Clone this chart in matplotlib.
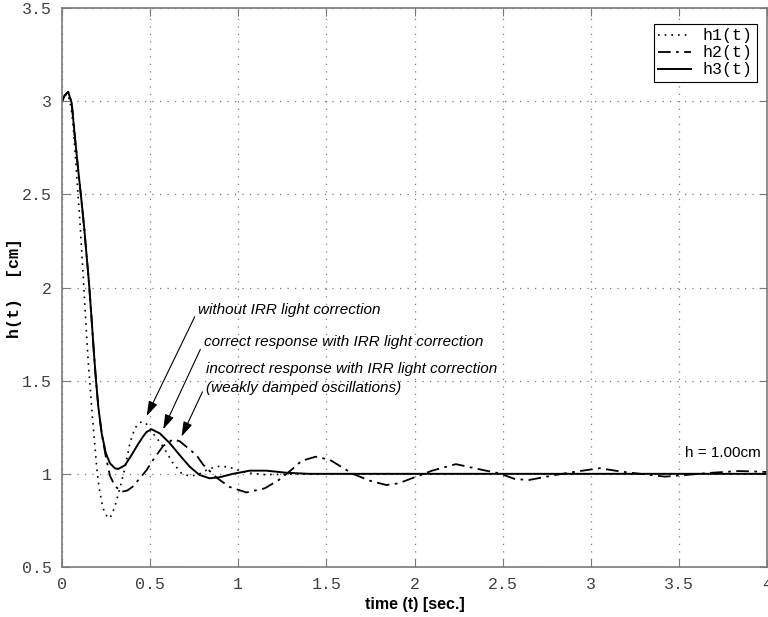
import matplotlib
matplotlib.use("Agg")
from matplotlib import pyplot as plt

# h1(t): without IRR light correction
t1 = [0.0, 0.015, 0.03, 0.045, 0.055, 0.064, 0.07, 0.079, 0.09, 0.102, 0.11, 0.121,
      0.13, 0.139, 0.149, 0.162, 0.171, 0.183, 0.192, 0.20, 0.211, 0.225, 0.24, 0.262,
      0.28, 0.30, 0.328, 0.357, 0.385, 0.413, 0.44, 0.46, 0.49, 0.517, 0.574, 0.63,
      0.678, 0.725, 0.77, 0.82, 0.87, 0.90, 0.95, 1.0, 1.05, 1.15, 1.3, 1.6, 2.0,
      3.0, 4.0]
h1 = [3.0, 3.03, 3.04, 3.0, 2.94, 2.86, 2.78, 2.66, 2.51, 2.35, 2.22, 2.05,
      1.90, 1.75, 1.60, 1.44, 1.32, 1.19, 1.09, 1.006, 0.924, 0.85, 0.795, 0.761,
      0.775, 0.824, 0.922, 1.03, 1.164, 1.244, 1.275, 1.28, 1.26, 1.217, 1.146, 1.057,
      1.003, 0.988, 0.995, 1.02, 1.038, 1.041, 1.035, 1.02, 1.005, 0.996, 0.998, 1.0, 1.0,
      1.0, 1.0]

# h2(t): incorrect response with IRR light correction
t2 = [0.0, 0.015, 0.035, 0.055, 0.074, 0.092, 0.11, 0.125, 0.136, 0.149, 0.155, 0.168,
      0.181, 0.193, 0.206, 0.225, 0.249, 0.272, 0.30, 0.338, 0.37, 0.40, 0.44, 0.48,
      0.517, 0.574, 0.63, 0.668, 0.725, 0.763, 0.80, 0.876, 0.95, 1.046, 1.15, 1.23,
      1.30, 1.36, 1.44, 1.52, 1.65, 1.75, 1.84, 1.91, 2.01, 2.10, 2.235, 2.39, 2.48,
      2.57, 2.65, 2.80, 2.91, 3.05, 3.18, 3.31, 3.42, 3.54, 3.69, 3.84, 3.95, 4.0]
h2 = [3.0, 3.03, 3.05, 2.99, 2.80, 2.63, 2.47, 2.33, 2.21, 2.07, 2.0, 1.83,
      1.65, 1.50, 1.36, 1.218, 1.09, 0.99, 0.935, 0.904, 0.91, 0.93, 0.975, 1.02,
      1.075, 1.15, 1.185, 1.175, 1.13, 1.10, 1.05, 0.98, 0.93, 0.90, 0.922, 0.967,
      1.02, 1.07, 1.092, 1.075, 1.0, 0.962, 0.94, 0.949, 0.985, 1.017, 1.052, 1.02, 1.003,
      0.972, 0.967, 0.994, 1.011, 1.03, 1.011, 0.997, 0.985, 0.994, 1.006, 1.015, 1.012, 1.01]

# h3(t): correct response with IRR light correction
t3 = [0.0, 0.015, 0.035, 0.055, 0.074, 0.092, 0.11, 0.125, 0.136, 0.149, 0.155, 0.168,
      0.181, 0.193, 0.206, 0.225, 0.249, 0.272, 0.30, 0.319, 0.357, 0.394, 0.432, 0.46,
      0.48, 0.508, 0.555, 0.612, 0.668, 0.725, 0.78, 0.838, 0.895, 0.97, 1.065, 1.16,
      1.27, 1.4, 1.6, 2.0, 3.0, 4.0]
h3 = [3.0, 3.03, 3.05, 2.99, 2.80, 2.63, 2.47, 2.33, 2.21, 2.07, 2.0, 1.83,
      1.65, 1.50, 1.36, 1.218, 1.11, 1.057, 1.03, 1.026, 1.046, 1.10, 1.16, 1.20,
      1.225, 1.239, 1.217, 1.164, 1.10, 1.038, 0.994, 0.976, 0.982, 1.0, 1.017, 1.017,
      1.006, 1.0, 1.0, 1.0, 1.0, 1.0]

x_ticks = [0, 0.5, 1, 1.5, 2, 2.5, 3, 3.5, 4]
x_labels = ["0", "0.5", "1", "1.5", "2", "2.5", "3", "3.5", "4"]
y_ticks = [0.5, 1, 1.5, 2, 2.5, 3, 3.5]
y_labels = ["0.5", "1", "1.5", "2", "2.5", "3", "3.5"]

mono = "Liberation Mono"
sans = "Liberation Sans"
gray = "#7a7a7a"

fig = plt.figure(figsize=(7.68, 6.17), dpi=100, facecolor="white")
ax = fig.add_axes([62 / 768, 50 / 617, 705 / 768, 559 / 617])

ax.plot(t1, h1, color="black", linestyle=(0, (1, 3)), lw=1.2, label="h1(t)")
ax.plot(t2, h2, color="black", linestyle=(0, (7, 3, 1.5, 3)), lw=1.3, label="h2(t)")
ax.plot(t3, h3, color="black", linestyle="-", lw=1.4, label="h3(t)")

ax.set_xlim(0, 4)
ax.set_ylim(0.5, 3.5)
ax.set_xticks(x_ticks)
ax.set_xticklabels(x_labels, fontfamily=mono, fontsize=12, color="#404040")
ax.set_yticks(y_ticks)
ax.set_yticklabels(y_labels, fontfamily=mono, fontsize=12, color="#404040")
ax.tick_params(direction="in", top=True, right=True, length=6, color=gray,
               pad=7)
for sp in ax.spines.values():
    sp.set_color(gray)
    sp.set_linewidth(1.2)

ax.grid(True, color=gray, linestyle=(0, (1, 5)), lw=0.9)

ax.set_xlabel("time (t) [sec.]", fontfamily=sans, fontweight="bold", fontsize=11.5,
              labelpad=4)
ax.set_ylabel("h(t)  [cm]", fontfamily=mono, fontweight="bold", fontsize=12)
ax.yaxis.set_label_coords(-0.057, 0.5)

leg = ax.legend(loc="upper right", bbox_to_anchor=(0.986, 0.971),
                prop={"family": mono, "size": 12},
                fancybox=False, framealpha=1, edgecolor="black",
                handlelength=2.0, borderpad=0.25, labelspacing=0.12,
                borderaxespad=0.0, handletextpad=0.7)
leg.get_frame().set_linewidth(0.8)

arrow = dict(arrowstyle="-|>,head_length=0.9,head_width=0.28", color="black",
             lw=0.8, shrinkA=0, shrinkB=0)
ax.text(0.772, 1.879, "without IRR light correction",
        fontsize=11, fontstyle="italic", fontfamily=sans, va="center")
ax.annotate("", xy=(0.48, 1.31), xytext=(0.753, 1.843), arrowprops=arrow)
ax.text(0.804, 1.709, "correct response with IRR light correction",
        fontsize=11, fontstyle="italic", fontfamily=sans, va="center")
ax.annotate("", xy=(0.574, 1.239), xytext=(0.785, 1.668), arrowprops=arrow)
ax.text(0.819, 1.561, "incorrect response with IRR light correction",
        fontsize=11, fontstyle="italic", fontfamily=sans, va="center")
ax.text(0.819, 1.459, "(weakly damped oscillations)",
        fontsize=11, fontstyle="italic", fontfamily=sans, va="center")
ax.annotate("", xy=(0.678, 1.20), xytext=(0.797, 1.44), arrowprops=arrow)

ax.text(3.533, 1.111, "h = 1.00cm", fontsize=11, fontfamily=sans, va="center")

fig.savefig("out.png", dpi=100, facecolor="white")
